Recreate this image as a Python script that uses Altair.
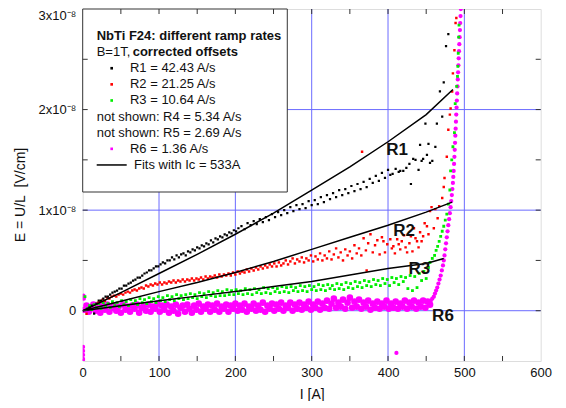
import altair as alt
import pandas as pd

# ---------------- data (I in A, E in units of 1e-8 V/cm) ----------------
R1_PTS = [(9, 0.03), (12, 0.05), (15, -0.03), (18, 0.07), (21, 0.10), (24, 0.10), (27, 0.12), (30, 0.14), (33, 0.14), (36, 0.16),
          (39, 0.18), (42, 0.19), (45, 0.20), (48, 0.22), (51, 0.22), (54, 0.25), (57, 0.25), (60, 0.27), (63, 0.28), (66, 0.30),
          (69, 0.31), (72, 0.33), (75, 0.33), (78, 0.35), (81, 0.37), (84, 0.38), (87, 0.40), (90, 0.40), (93, 0.42), (96, 0.44),
          (99, 0.44), (102, 0.46), (105, 0.48), (108, 0.47), (111, 0.50), (114, 0.50), (117, 0.53), (120, 0.51), (123, 0.55), (126, 0.53),
          (129, 0.56), (132, 0.57), (135, 0.55), (138, 0.59), (141, 0.58), (144, 0.61), (147, 0.60), (150, 0.63), (153, 0.62), (156, 0.65),
          (159, 0.64), (162, 0.67), (165, 0.66), (168, 0.70), (171, 0.68), (174, 0.72), (177, 0.71), (180, 0.74), (183, 0.73), (186, 0.76),
          (189, 0.75), (192, 0.78), (195, 0.77), (198, 0.80), (201, 0.79), (204, 0.82),
          (208, 0.84), (212, 0.81), (216, 0.87), (220, 0.85), (224, 0.89), (228, 0.86), (232, 0.91), (236, 0.88), (240, 0.93), (244, 0.90),
          (248, 0.96), (252, 0.93), (256, 0.98), (260, 0.95), (264, 1.00), (268, 0.97), (272, 1.03), (276, 0.99), (280, 1.05), (284, 1.01),
          (288, 1.06), (292, 1.02), (296, 1.09), (300, 1.05), (304, 1.10), (308, 1.06), (312, 1.13), (316, 1.08), (320, 1.15), (324, 1.11),
          (328, 1.17), (332, 1.13), (336, 1.20), (340, 1.15), (344, 1.21), (348, 1.17), (352, 1.24), (356, 1.19), (360, 1.26), (364, 1.21),
          (368, 1.28), (372, 1.23), (376, 1.31), (380, 1.27), (384, 1.34), (388, 1.29), (392, 1.37), (396, 1.32), (400, 1.40),
          (403, 1.35), (406, 1.36), (410, 1.41), (414, 1.38), (416, 1.39), (420, 1.39), (424, 1.42), (428, 1.46), (430, 1.26), (433, 1.51),
          (436, 1.50), (440, 1.40), (442, 1.65), (444, 1.49), (446, 1.51), (449, 1.86), (451, 1.55), (453, 1.66), (455, 1.47), (458, 1.49),
          (462, 1.63), (464, 1.86), (468, 2.18), (471, 1.93), (473, 2.27), (476, 2.63), (479, 2.75)]

R2_PTS = [(5, -0.03), (20, 0.08), (23, 0.09), (26, 0.11), (29, 0.10), (32, 0.13), (35, 0.12), (38, 0.14), (41, 0.15), (44, 0.14), (47, 0.16),
          (50, 0.17), (53, 0.16), (56, 0.18), (59, 0.19), (62, 0.18), (65, 0.20), (68, 0.21), (71, 0.20), (74, 0.22), (77, 0.23),
          (80, 0.22), (83, 0.25), (86, 0.24), (89, 0.26), (92, 0.25), (95, 0.27), (98, 0.26), (101, 0.28), (104, 0.26), (107, 0.28),
          (110, 0.27), (113, 0.29), (116, 0.28), (119, 0.30), (122, 0.28), (125, 0.30), (128, 0.29), (131, 0.31), (134, 0.29), (137, 0.31),
          (140, 0.30), (143, 0.32), (146, 0.30), (149, 0.32), (152, 0.31), (155, 0.33), (158, 0.31), (161, 0.34), (164, 0.32), (167, 0.34),
          (170, 0.33), (173, 0.35), (176, 0.33), (179, 0.36), (182, 0.34), (185, 0.36), (188, 0.35), (191, 0.37), (194, 0.35), (197, 0.38),
          (200, 0.36), (203, 0.39), (206, 0.37), (209, 0.39), (212, 0.38), (215, 0.41), (218, 0.39), (221, 0.42), (224, 0.40), (227, 0.43),
          (230, 0.41), (233, 0.44), (236, 0.42), (239, 0.45), (242, 0.43), (245, 0.46), (248, 0.44), (251, 0.47), (254, 0.44), (257, 0.48),
          (260, 0.45), (263, 0.47), (266, 0.50), (269, 0.46), (272, 0.49), (275, 0.52), (278, 0.47), (281, 0.51), (284, 0.49), (287, 0.53),
          (290, 0.48), (293, 0.52), (296, 0.50), (299, 0.55), (302, 0.49), (305, 0.54), (308, 0.51), (311, 0.57), (314, 0.50), (317, 0.55),
          (320, 0.52), (323, 0.59), (326, 0.51), (329, 0.56), (332, 0.62), (335, 0.53), (338, 0.58), (341, 0.50), (344, 0.61), (347, 0.55),
          (350, 0.59), (353, 0.52), (356, 0.65), (359, 0.57), (362, 0.62), (365, 0.55), (366, 1.58), (368, 0.72), (371, 0.60), (372, 0.40),
          (374, 0.67), (377, 0.76), (380, 0.58), (383, 0.65), (386, 0.70), (389, 0.56), (392, 0.73), (394, 0.69), (396, 0.58), (399, 0.66),
          (403, 0.71), (405, 0.62), (407, 0.64), (409, 0.57), (412, 0.71), (414, 0.66), (416, 0.61), (418, 0.69), (421, 0.75), (423, 0.63),
          (425, 0.58), (428, 0.67), (430, 0.74), (432, 0.59), (434, 0.82), (436, 0.72), (438, 0.69), (440, 0.63), (442, 0.78), (444, 0.69),
          (446, 0.74), (448, 0.87), (451, 0.84), (453, 0.76), (455, 0.99), (457, 1.03), (460, 0.82), (462, 1.01), (465, 0.92), (467, 1.04),
          (471, 1.12), (473, 1.23), (474, 1.32), (477, 1.53), (479, 1.80), (481, 1.95), (482, 2.01), (484, 2.18), (485, 2.36), (487, 2.59),
          (488.5, 2.86), (489.5, 2.91)]

R3_PTS = [(3, 0.14), (6, 0.02), (9, 0.05), (12, 0.01), (15, 0.06), (18, 0.03), (21, 0.07), (24, 0.02), (27, 0.08), (30, 0.04),
          (33, 0.07), (36, 0.03), (39, 0.09), (42, 0.05), (45, 0.08), (48, 0.04), (51, 0.10), (54, 0.06), (57, 0.09), (60, 0.05),
          (63, 0.11), (66, 0.07), (69, 0.10), (72, 0.06), (75, 0.12), (78, 0.08), (81, 0.11), (84, 0.07), (87, 0.13), (90, 0.09),
          (93, 0.12), (96, 0.08), (99, 0.14), (102, 0.10), (105, 0.13), (108, 0.09), (111, 0.15), (114, 0.11), (117, 0.14), (120, 0.10),
          (123, 0.16), (126, 0.12), (129, 0.15), (132, 0.11), (135, 0.16), (138, 0.12), (141, 0.17), (144, 0.13), (147, 0.16), (150, 0.12),
          (153, 0.18), (156, 0.14), (159, 0.17), (162, 0.13), (165, 0.19), (168, 0.15), (171, 0.18), (174, 0.14), (177, 0.20), (180, 0.15),
          (183, 0.19), (186, 0.15), (189, 0.21), (192, 0.16), (195, 0.20), (198, 0.16), (201, 0.21), (204, 0.17), (207, 0.20), (210, 0.16),
          (213, 0.22), (216, 0.17), (219, 0.21), (222, 0.16), (225, 0.22), (228, 0.18), (231, 0.21), (234, 0.17), (237, 0.23), (240, 0.18),
          (243, 0.22), (246, 0.17), (249, 0.23), (252, 0.19), (255, 0.22), (258, 0.18), (261, 0.24), (264, 0.19), (267, 0.23), (270, 0.18),
          (273, 0.24), (276, 0.20), (279, 0.23), (282, 0.19), (285, 0.25), (288, 0.20), (291, 0.24), (294, 0.19), (297, 0.25), (300, 0.21),
          (303, 0.24), (306, 0.20), (309, 0.26), (312, 0.21), (315, 0.25), (318, 0.20), (321, 0.26), (324, 0.22), (327, 0.25), (330, 0.21),
          (333, 0.27), (336, 0.22), (339, 0.26), (342, 0.21), (345, 0.28), (348, 0.23), (351, 0.27), (354, 0.22), (357, 0.29), (360, 0.24),
          (363, 0.28), (366, 0.23), (369, 0.30), (372, 0.25), (375, 0.29), (378, 0.24), (381, 0.31), (384, 0.26), (387, 0.30), (390, 0.25),
          (393, 0.32), (396, 0.27), (399, 0.31), (402, 0.25), (405, 0.33), (408, 0.28), (411, 0.32), (414, 0.26), (417, 0.34), (420, 0.29),
          (423, 0.33), (426, 0.22), (429, 0.35), (432, 0.20), (435, 0.34), (438, 0.23), (441, 0.37), (444, 0.30), (447, 0.39), (450, 0.32),
          (453, 0.43), (455, 0.48), (458, 0.52), (461, 0.55), (463, 0.60), (465, 0.64), (467, 0.69), (469, 0.74), (471, 0.79), (473, 0.84),
          (475, 0.90), (477, 0.96), (479, 1.06), (481, 1.20), (482, 1.39), (483.5, 1.50), (485, 1.63), (487, 1.77), (488, 2.06), (490, 2.23),
          (491, 2.33), (491.5, 2.43), (492, 2.56), (492.5, 2.72), (493, 2.84)]

# R6: dense band near zero
R6_PTS = [(2, 0.01), (5, 0.05), (8, -0.01), (11, 0.03), (14, 0.06), (17, 0.00), (20, 0.04), (23, -0.02), (26, 0.05), (29, 0.01),
          (32, 0.06), (35, -0.01), (38, 0.03), (41, 0.05), (44, 0.00), (47, 0.04), (50, -0.02), (53, 0.06), (56, 0.01), (59, 0.04),
          (62, -0.01), (65, 0.05), (68, 0.02), (71, 0.06), (74, -0.02), (77, 0.03), (80, 0.05), (83, 0.00), (86, 0.06), (89, -0.01),
          (92, 0.04), (95, 0.02), (98, 0.07), (101, -0.01), (104, 0.05), (107, 0.01), (110, 0.06), (113, -0.02), (116, 0.04), (119, 0.00),
          (122, 0.06), (125, -0.03), (128, 0.03), (131, 0.05), (134, -0.01), (137, 0.06), (140, 0.02), (143, -0.02), (146, 0.05), (149, 0.01),
          (152, 0.07), (155, -0.01), (158, 0.04), (161, 0.02), (164, 0.06), (167, -0.01), (170, 0.05), (173, 0.01), (176, 0.07), (179, -0.01),
          (182, 0.04), (185, 0.02), (188, 0.06), (191, -0.01), (194, 0.05), (197, 0.02), (200, 0.07), (203, 0.00), (206, 0.05), (209, 0.01),
          (212, 0.07), (215, -0.01), (218, 0.04), (221, 0.02), (224, 0.07), (227, 0.00), (230, 0.05), (233, 0.01), (236, 0.08), (239, -0.01),
          (242, 0.05), (245, 0.02), (248, 0.07), (251, 0.00), (254, 0.06), (257, 0.02), (260, 0.08), (263, 0.00), (266, 0.05), (269, 0.03),
          (272, 0.08), (275, 0.00), (278, 0.06), (281, 0.02), (284, 0.08), (287, 0.01), (290, 0.06), (293, 0.03), (296, 0.09), (299, 0.01),
          (302, 0.06), (305, 0.03), (308, 0.09), (311, 0.01), (314, 0.07), (317, 0.03), (320, 0.10), (323, 0.02), (326, 0.07), (329, 0.12),
          (332, 0.03), (335, 0.08), (338, 0.04), (341, 0.11), (344, 0.02), (347, 0.08), (350, 0.13), (353, 0.03), (356, 0.09), (359, 0.04),
          (362, 0.11), (365, 0.02), (368, 0.08), (371, 0.04), (374, 0.10), (377, 0.01), (380, 0.07), (383, 0.03), (386, 0.09), (389, 0.02),
          (392, 0.07), (395, 0.04), (398, 0.10), (401, 0.02), (404, 0.07), (407, 0.03), (410, 0.09), (413, 0.02), (416, 0.07),
          (419, 0.04), (422, 0.10), (425, 0.02), (428, 0.08), (431, 0.04), (434, 0.10), (437, 0.02), (440, 0.08), (443, 0.04), (446, 0.10),
          (449, 0.03), (452, 0.09), (455, 0.06)]

# R6: transition branch and isolated readings
R6_RISE = [(0.5, -0.36), (0.5, -0.40), (0.5, -0.44), (0.5, -0.48), (0.5, -0.50), (1, 0.15), (1.5, 0.12), (411, -0.42),
           (456, 0.10), (458, 0.12), (460, 0.14), (461.5, 0.17), (463, 0.20), (464.5, 0.23), (466, 0.27), (467.5, 0.31), (469, 0.35),
           (470.5, 0.40), (472, 0.45), (473, 0.50), (474, 0.55), (475, 0.61), (476, 0.67), (477, 0.73), (478, 0.79), (479, 0.85),
           (480, 0.91), (481, 0.97), (482, 1.03), (482.8, 1.09), (483.6, 1.15), (484.3, 1.21), (485, 1.27), (485.5, 1.33), (486, 1.39),
           (486.5, 1.46), (487, 1.53), (487.4, 1.60), (487.8, 1.67), (488.2, 1.74), (488.6, 1.81), (489, 1.88), (489.4, 1.95),
           (489.8, 2.02), (490.2, 2.09), (490.6, 2.16), (491, 2.23), (491.4, 2.30), (491.8, 2.37), (492.2, 2.44), (492.6, 2.51),
           (493, 2.58), (493.4, 2.65), (493.8, 2.72), (494.2, 2.79), (494.6, 2.86), (495, 2.93), (495.4, 3.00)]

FIT_R1 = [(0, 0), (50, 0.18), (100, 0.37), (150, 0.56), (200, 0.76), (250, 0.97), (300, 1.20), (350, 1.43), (400, 1.68), (450, 1.95), (485, 2.20)]
FIT_R2 = [(0, 0), (50, 0.095), (100, 0.19), (150, 0.28), (200, 0.38), (250, 0.49), (300, 0.61), (350, 0.73), (400, 0.85), (450, 0.98), (484, 1.08)]
FIT_R3 = [(0, 0), (50, 0.05), (100, 0.10), (150, 0.145), (200, 0.19), (250, 0.24), (300, 0.29), (350, 0.355), (400, 0.42), (450, 0.47), (473, 0.52)]

LABELS = ["R1", "R2", "R3", "R6"]
LABEL_I = [412, 421, 441, 472]
LABEL_E = [1.60, 0.79, 0.41, -0.05]

X_TICKS = [0, 100, 200, 300, 400, 500, 600]
Y_TICKS = [0, 1, 2, 3]
X_GRID = [100, 200, 300, 400, 500]
Y_GRID = [0, 1, 2]
X_MINOR = [50, 100, 150, 200, 250, 300, 350, 400, 450, 500, 550]
Y_MINOR = [0, 0.5, 1, 1.5, 2, 2.5]

LEGEND_TITLE = "NbTi F24: different ramp rates"
LEGEND_SUB = ["B=1T,", "corrected offsets"]
LEGEND_ENTRIES = ["R1 = 42.43 A/s", "R2 = 21.25 A/s", "R3 = 10.64 A/s",
                  "not shown: R4 = 5.34 A/s", "not shown: R5 = 2.69 A/s",
                  "R6 = 1.36 A/s", "Fits with Ic = 533A"]

# ---------------- styles ----------------
W, H = 458, 352
GRID = "#6a6aff"
INK = "#111111"
COL = {"R1": "#000000", "R2": "#ff0000", "R3": "#00ee00", "R6": "#ff00ff"}
FONT = "Liberation Sans"

xs = alt.Scale(domain=[0, 600], nice=False, zero=False)
ys = alt.Scale(domain=[-0.5, 3], nice=False, zero=False)

xaxis = alt.Axis(values=X_TICKS, format="d", title="I [A]", grid=False, ticks=False, tickSize=0,
                 domain=False, labelFlush=False, labelPadding=6, labelFontSize=13, labelColor=INK,
                 labelFont=FONT, titleFont=FONT, titleFontSize=14, titleFontWeight="normal",
                 titleColor=INK, titleY=34, titleBaseline="middle")
yaxis = alt.Axis(values=Y_TICKS, labelExpr="datum.value == 0 ? '0' : datum.value + 'x10\u207b\u2078'",
                 title="E = U/L\u00a0 [V/cm]", grid=False, ticks=False, tickSize=0, domain=False,
                 labelFlush=True, labelPadding=7, labelFontSize=13, labelColor=INK, labelFont=FONT,
                 titleFont=FONT, titleFontSize=14, titleFontWeight="normal", titleColor=INK,
                 titleX=-61.7, titleY=185.5, titleAlign="center", titleBaseline="middle")

X = alt.X("I:Q", scale=xs, axis=xaxis)
Y = alt.Y("E:Q", scale=ys, axis=yaxis)


def pts(p):
    return pd.DataFrame(p, columns=["I", "E"])


one = pd.DataFrame({"a": [0]})
layers = []

# grid
layers.append(alt.Chart(pd.DataFrame({"I": X_GRID})).mark_rule(color=GRID, strokeWidth=1)
              .encode(x=X, y=alt.value(0), y2=alt.value(H)))
layers.append(alt.Chart(pd.DataFrame({"E": Y_GRID})).mark_rule(color=GRID, strokeWidth=1)
              .encode(y=Y, x=alt.value(0), x2=alt.value(W)))

# data points
for name, data, size, shape in [("R6", R6_PTS, 44, "circle"), ("R6", R6_RISE, 18, "circle"),
                                ("R3", R3_PTS, 8, "square"), ("R2", R2_PTS, 6, "square"),
                                ("R1", R1_PTS, 5, "square")]:
    layers.append(alt.Chart(pts(data)).mark_point(shape=shape, filled=True, size=size, color=COL[name],
                                                   opacity=1, strokeWidth=0, clip=True)
                  .encode(x=X, y=Y))

# fits
for data in [FIT_R1, FIT_R2, FIT_R3]:
    layers.append(alt.Chart(pts(data)).mark_line(color="black", strokeWidth=1.5, clip=True)
                  .encode(x=X, y=Y))

# curve labels
layers.append(alt.Chart(pd.DataFrame({"I": LABEL_I, "E": LABEL_E, "t": LABELS}))
              .mark_text(fontSize=17, fontWeight="bold", color=INK, font=FONT)
              .encode(x=X, y=Y, text="t:N"))

# legend box
layers.append(alt.Chart(one).mark_rect(fill="white", stroke="#333333", strokeWidth=1)
              .encode(x=alt.value(0), x2=alt.value(204.6), y=alt.value(0), y2=alt.value(183)))

row_y = [27 + 16.12 * k for k in range(9)]


def txt(s, x, y, bold=False):
    return alt.Chart(one).mark_text(text=s, align="left", baseline="middle", fontSize=13, font=FONT,
                                    fontWeight="bold" if bold else "normal", color=INK
                                    ).encode(x=alt.value(x), y=alt.value(y))


layers.append(txt(LEGEND_TITLE, 14, row_y[0], True))
layers.append(txt(LEGEND_SUB[0], 14, row_y[1]))
layers.append(txt(LEGEND_SUB[1], 50, row_y[1], True))
entry_x = [47.3, 47.3, 47.3, 14, 14, 47.3, 51.3]
for k, (s, x) in enumerate(zip(LEGEND_ENTRIES, entry_x)):
    layers.append(txt(s, x, row_y[k + 2]))
for k, name in [(2, "R1"), (3, "R2"), (4, "R3"), (7, "R6")]:
    layers.append(alt.Chart(one).mark_square(size=7, color=COL[name], opacity=1)
                  .encode(x=alt.value(29), y=alt.value(row_y[k])))
layers.append(alt.Chart(one).mark_rule(color="black", strokeWidth=1.5)
              .encode(x=alt.value(14), x2=alt.value(44), y=alt.value(row_y[8])))

# inward ticks
TK = "#333333"
xt = pd.DataFrame({"I": X_MINOR})
yt = pd.DataFrame({"E": Y_MINOR})
layers.append(alt.Chart(xt).mark_rule(color=TK, strokeWidth=1).encode(x=X, y=alt.value(H), y2=alt.value(H - 5)))
layers.append(alt.Chart(xt).mark_rule(color=TK, strokeWidth=1).encode(x=X, y=alt.value(0), y2=alt.value(5)))
layers.append(alt.Chart(yt).mark_rule(color=TK, strokeWidth=1).encode(y=Y, x=alt.value(0), x2=alt.value(5)))
layers.append(alt.Chart(yt).mark_rule(color=TK, strokeWidth=1).encode(y=Y, x=alt.value(W - 5), x2=alt.value(W)))

chart = alt.layer(*layers).properties(
    width=W, height=H,
    autosize=alt.AutoSizeParams(type="none"),
    padding={"left": 74.7, "top": 1, "right": 17, "bottom": 40},
).configure_view(stroke="#222222", strokeWidth=1.5).configure(font=FONT)

chart.save("out.html", embed_options={"renderer": "svg", "actions": False})
